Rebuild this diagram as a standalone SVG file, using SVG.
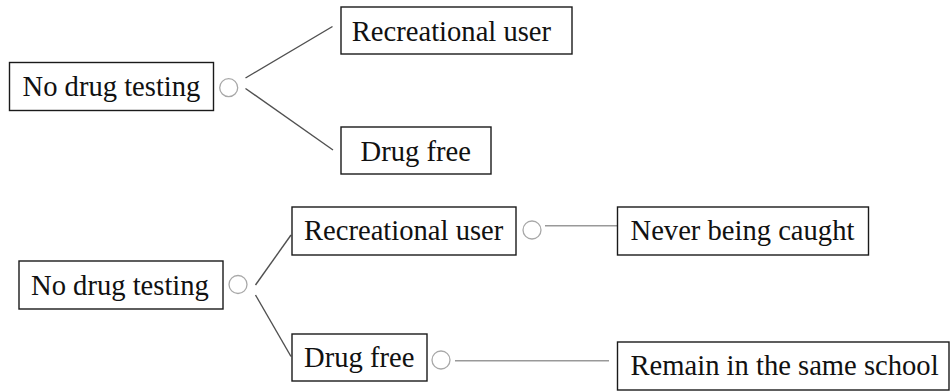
<svg xmlns="http://www.w3.org/2000/svg" width="950" height="392" viewBox="0 0 950 392">
<style>
.box{fill:#fff;stroke:#1a1a1a;stroke-width:1.4}
.lbl{font-family:"Liberation Serif","Times New Roman",serif;font-size:28.6px;fill:#111}
.knot{fill:#fff;stroke:#a8a8a8;stroke-width:1.3}
.edge{stroke:#505050;stroke-width:1.4;fill:none}
.edge2{stroke:#999;stroke-width:1.6;fill:none}
</style>
<rect width="950" height="392" fill="#fff"/>
<g id="connectors">
<line class="edge" x1="245.5" y1="78" x2="332.5" y2="26.5"/>
<line class="edge" x1="245.5" y1="88.5" x2="333" y2="150"/>
<line class="edge" x1="255.5" y1="285" x2="291" y2="235"/>
<line class="edge" x1="255.5" y1="295" x2="291" y2="356.5"/>
<line class="edge2" x1="545" y1="225.7" x2="618" y2="225.7"/>
<line class="edge2" x1="455" y1="360.7" x2="609" y2="360.7"/>
</g>
<g id="top-root">
<rect class="box" x="9.5" y="62.5" width="204" height="48"/>
<text class="lbl" x="22.5" y="96">No drug testing</text>
<circle class="knot" cx="228.7" cy="87.7" r="9"/>
</g>
<g id="top-recreational">
<rect class="box" x="341" y="7" width="231" height="47"/>
<text class="lbl" x="351.8" y="41">Recreational user</text>
</g>
<g id="top-drugfree">
<rect class="box" x="341" y="127" width="150" height="47"/>
<text class="lbl" x="360.5" y="161">Drug free</text>
</g>
<g id="bottom-root">
<rect class="box" x="19" y="261" width="204" height="48"/>
<text class="lbl" x="31" y="295">No drug testing</text>
<circle class="knot" cx="238" cy="284.5" r="9"/>
</g>
<g id="bottom-recreational">
<rect class="box" x="292" y="207" width="224" height="48"/>
<text class="lbl" x="304" y="240">Recreational user</text>
<circle class="knot" cx="532" cy="230" r="9"/>
</g>
<g id="bottom-drugfree">
<rect class="box" x="292" y="334" width="135" height="47"/>
<text class="lbl" x="304" y="367">Drug free</text>
<circle class="knot" cx="441" cy="360" r="9"/>
</g>
<g id="never-caught">
<rect class="box" x="617.5" y="207" width="251" height="48"/>
<text class="lbl" x="630.5" y="240">Never being caught</text>
</g>
<g id="same-school">
<rect class="box" x="617.5" y="342" width="331.5" height="48"/>
<text class="lbl" x="630.5" y="375">Remain in the same school</text>
</g>
</svg>
